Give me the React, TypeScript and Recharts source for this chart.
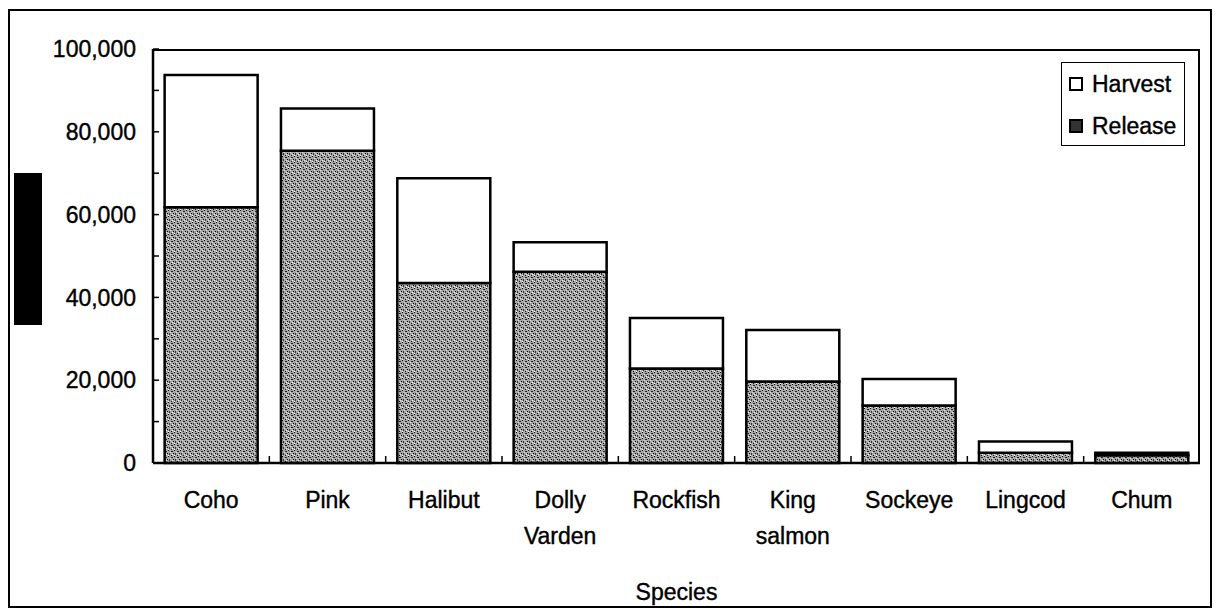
import React from 'react';
import { BarChart, Bar, XAxis, YAxis, Legend } from 'recharts';

const species = ['Coho', 'Pink', 'Halibut', 'Dolly Varden', 'Rockfish', 'King salmon', 'Sockeye', 'Lingcod', 'Chum'];
const release = [61800, 75400, 43500, 46200, 22800, 19700, 13900, 2500, 1900];
const harvest = [31900, 10200, 25300, 7100, 12200, 12400, 6400, 2700, 600];
const yTicks = [0, 10000, 20000, 30000, 40000, 50000, 60000, 70000, 80000, 90000, 100000];
const legendOrder = ['Harvest', 'Release'];

const data = species.map((name, i) => ({ name, Release: release[i], Harvest: harvest[i] }));

const FONT = '"Liberation Sans", Arial, sans-serif';
const PLOT_W = 1047;
const STEP = PLOT_W / species.length;

const CategoryTick = (props: any) => {
    const { x, y, payload } = props;
    const idx = species.indexOf(payload.value);
    const lines = String(payload.value).split(' ');
    return (
        <g>
            {idx > 0 && <line x1={x - STEP / 2} x2={x - STEP / 2} y1={y} y2={y - 7} stroke="#000" strokeWidth={1.5} />}
            <text x={x} y={y} textAnchor="middle" fontFamily={FONT} fontSize={23} fill="#000" stroke="#000" strokeWidth={0.4}>
                {lines.map((l, i) => (
                    <tspan key={i} x={x} dy={i === 0 ? 45 : 36}>{l}</tspan>
                ))}
            </text>
        </g>
    );
};

const LegendBox = (props: any) => {
    const items = [...(props.payload || [])].sort((a: any, b: any) => legendOrder.indexOf(a.value) - legendOrder.indexOf(b.value));
    return (
        <div style={{ border: '1.5px solid #000', background: '#fff', width: 124, height: 84, boxSizing: 'border-box', padding: '0 0 0 7px', fontFamily: FONT, fontSize: 23, WebkitTextStroke: '0.4px #000' }}>
            {items.map((it: any) => (
                <div key={it.value} style={{ display: 'flex', alignItems: 'center', height: 42 }}>
                    <svg width={14} height={14} style={{ marginRight: 9 }}>
                        <rect x={1} y={1} width={12} height={12} fill={it.value === 'Release' ? '#333' : '#fff'} stroke="#000" strokeWidth={2} />
                    </svg>
                    <span style={{ color: '#000' }}>{it.value}</span>
                </div>
            ))}
        </div>
    );
};

export default function App() {
    return (
        <div style={{ position: 'absolute', left: 0, top: 0, width: 1220, height: 616, background: '#fff' }}>
            <div style={{ position: 'absolute', left: 8, top: 9, width: 1204, height: 599, border: '2px solid #000', boxSizing: 'border-box' }} />
            <div style={{ position: 'absolute', left: 14, top: 173, width: 28, height: 152, background: '#000' }} />
            <div style={{ position: 'absolute', left: 0, top: 0 }}>
                <BarChart width={1220} height={616} data={data} margin={{ top: 49, right: 20, left: 0, bottom: 0 }} barCategoryGap="10%">
                    <defs>
                        <pattern id="stipple" width="6" height="6" patternUnits="userSpaceOnUse">
                            <rect width="6" height="6" fill="#a8a8a8" />
                            <rect x="0" y="0" width="1" height="1" fill="#000" />
                            <rect x="3" y="1" width="2" height="1" fill="#222" />
                            <rect x="5" y="3" width="1" height="1" fill="#000" />
                            <rect x="1" y="3" width="1" height="2" fill="#333" />
                            <rect x="4" y="4" width="1" height="1" fill="#eee" />
                            <rect x="2" y="2" width="1" height="1" fill="#ddd" />
                            <rect x="0" y="5" width="1" height="1" fill="#fff" />
                            <rect x="3" y="5" width="1" height="1" fill="#111" />
                        </pattern>
                    </defs>
                    <Bar dataKey="Release" stackId="a" fill="url(#stipple)" stroke="#000" strokeWidth={2.5} isAnimationActive={false} />
                    <Bar dataKey="Harvest" stackId="a" fill="#fff" stroke="#000" strokeWidth={2.5} isAnimationActive={false} />
                    <XAxis dataKey="name" height={153} tickSize={0} tickMargin={0} tickLine={false} axisLine={{ stroke: '#000', strokeWidth: 2.5 }} tick={<CategoryTick />} interval={0}
                        label={{ value: 'Species', position: 'insideBottom', offset: 16, fontFamily: FONT, fontSize: 23, fill: '#000', stroke: '#000', strokeWidth: 0.4 }} />
                    <YAxis width={153} domain={[0, 100000]} ticks={yTicks} tickSize={-6} tickMargin={23}
                        tickFormatter={(v: number) => (v % 20000 === 0 ? v.toLocaleString('en-US') : '')}
                        tick={{ fontFamily: FONT, fontSize: 23, fill: '#000', stroke: '#000', strokeWidth: 0.4 }}
                        axisLine={{ stroke: '#000', strokeWidth: 2.5 }} tickLine={{ stroke: '#000', strokeWidth: 1.5 }} />
                    <Legend layout="vertical" align="center" verticalAlign="middle" content={<LegendBox />} wrapperStyle={{ position: 'absolute', top: 62, left: 1061, width: 124, height: 84 }} />
                </BarChart>
            </div>
            <div style={{ position: 'absolute', left: 153, top: 49, width: PLOT_W, height: 414, borderTop: '2.5px solid #000', borderRight: '2.5px solid #000', boxSizing: 'border-box', pointerEvents: 'none' }} />
        </div>
    );
}
